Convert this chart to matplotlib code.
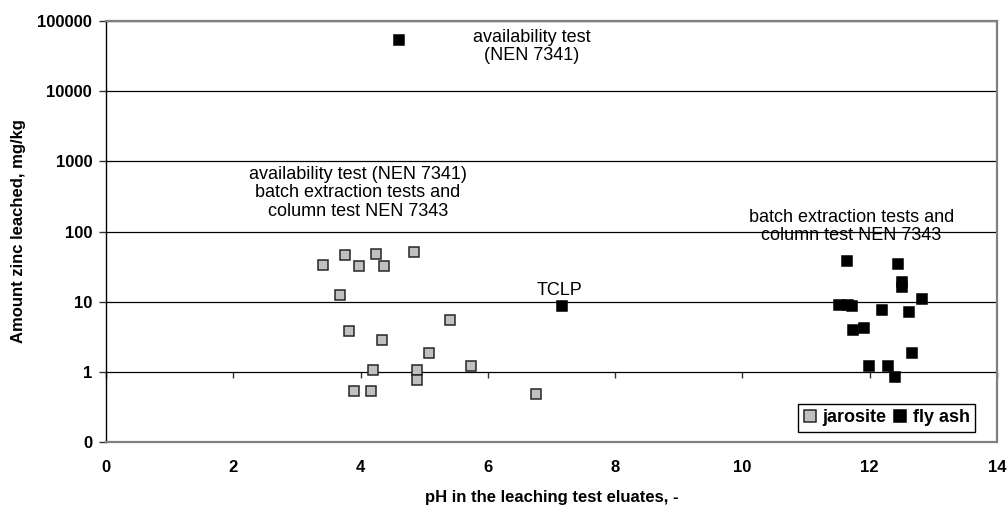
import matplotlib
matplotlib.use("Agg")
import matplotlib.pyplot as plt
from matplotlib.ticker import FixedLocator, NullLocator

plt.rcParams['font.family'] = ['Liberation Sans', 'DejaVu Sans']

# jarosite: pH and zinc leached (mg/kg)
jar_ph = [3.41, 3.75, 3.98, 4.24, 4.37, 4.84, 3.67, 3.82, 4.33,
          5.40, 5.07, 4.19, 4.89, 4.88, 5.73, 3.90, 4.17, 6.76]
jar_zn = [33.7, 47, 32.7, 48.5, 32, 50.8, 12.5, 3.8, 2.87,
          5.5, 1.87, 1.06, 1.06, 0.76, 1.2, 0.53, 0.54, 0.485]

# fly ash: availability test, TCLP, then batch/column tests
fly_ph = [4.60, 7.17, 11.65, 12.45, 12.51, 12.51, 12.82, 11.52, 11.66,
          11.72, 12.20, 12.61, 11.74, 11.91, 12.66, 11.99, 12.29, 12.39]
fly_zn = [53500, 8.6, 37.8, 34.9, 18.9, 16.1, 10.9, 8.9, 9.1,
          8.8, 7.7, 7.1, 4.0, 4.25, 1.85, 1.22, 1.22, 0.84]

x_ticks = [0, 2, 4, 6, 8, 10, 12, 14]
y_ticks = [0.1, 1, 10, 100, 1000, 10000, 100000]
y_labels = ['0', '1', '10', '100', '1000', '10000', '100000']

fig = plt.figure(figsize=(10.08, 5.09), dpi=100)
ax = fig.add_axes([0.1052, 0.1316, 0.8839, 0.8271])

ax.plot(jar_ph, jar_zn, ls='none', marker='s', ms=7.5, mfc='#c0c0c0',
        mec='#262626', mew=1.1, label='jarosite', zorder=3)
ax.plot(fly_ph, fly_zn, ls='none', marker='s', ms=7.5, mfc='black',
        mec='black', mew=1.1, label='fly ash', zorder=3)

ax.set_yscale('log')
ax.set_xlim(0, 14)
ax.set_ylim(0.1, 100000)
ax.yaxis.set_major_locator(FixedLocator(y_ticks))
ax.yaxis.set_minor_locator(NullLocator())
ax.set_yticks(y_ticks, y_labels)
ax.set_xticks(x_ticks, [str(t) for t in x_ticks])

ax.grid(axis='y', color='black', lw=0.9)
ax.set_axisbelow(True)

for s in ['top', 'right', 'bottom']:
    ax.spines[s].set_color('#808080')
    ax.spines[s].set_linewidth(1.6)
ax.spines['left'].set_color('black')
ax.spines['left'].set_linewidth(1.0)

ax.tick_params(axis='x', length=0, pad=13, labelsize=12)
ax.tick_params(axis='y', direction='out', length=5, width=1, pad=5,
               labelsize=12, color='#333333')
for lab in ax.get_xticklabels() + ax.get_yticklabels():
    lab.set_fontweight('bold')

# x-axis crosses the log axis at 1 (Excel style), small ticks there
sec = ax.secondary_xaxis(1 / 6)
sec.set_xticks(x_ticks)
sec.tick_params(direction='out', length=4, width=1, labelbottom=False,
                color='#333333')
sec.spines['bottom'].set_visible(False)

ax.set_xlabel('pH in the leaching test eluates, -', fontsize=12,
              fontweight='bold', labelpad=11)
ax.set_ylabel('Amount zinc leached, mg/kg', fontsize=12,
              fontweight='bold', labelpad=8)

ax.text(6.69, 43500, 'availability test\n(NEN 7341)', ha='center',
        va='center', fontsize=13, linespacing=1.1)
ax.text(3.96, 357, 'availability test (NEN 7341)\nbatch extraction tests and\ncolumn test NEN 7343',
        ha='center', va='center', fontsize=13, linespacing=1.1)
ax.text(11.71, 117, 'batch extraction tests and\ncolumn test NEN 7343',
        ha='center', va='center', fontsize=13, linespacing=1.1)
ax.text(7.12, 14.5, 'TCLP', ha='center', va='center', fontsize=13)

leg = ax.legend(loc='lower right', bbox_to_anchor=(0.9753, 0.0245),
                ncol=2, fancybox=False, framealpha=1, edgecolor='black',
                borderaxespad=0, handlelength=0.7, handletextpad=0.35,
                columnspacing=0.4, borderpad=0.3, markerscale=1.1,
                prop={'size': 13, 'weight': 'bold'})
leg.get_frame().set_linewidth(1.0)

fig.savefig('out.png', dpi=100)
